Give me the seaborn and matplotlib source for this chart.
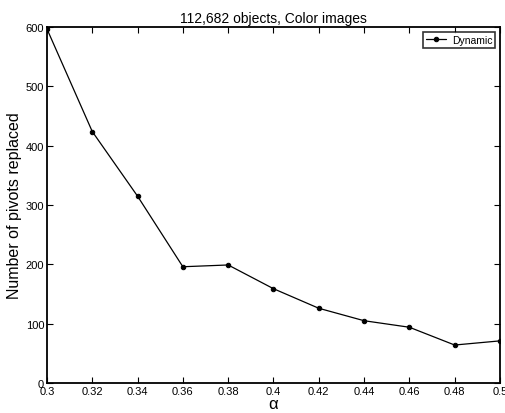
import matplotlib
matplotlib.use("Agg")
import matplotlib.pyplot as plt
import seaborn as sns
import pandas as pd

alpha = [0.30, 0.32, 0.34, 0.36, 0.38, 0.40, 0.42, 0.44, 0.46, 0.48, 0.50]
pivots = [597, 424, 315, 196, 199, 159, 126, 105, 94, 64, 71]
xtick_labels = ["0.3", "0.32", "0.34", "0.36", "0.38", "0.4", "0.42", "0.44", "0.46", "0.48", "0.5"]
yticks = [0, 100, 200, 300, 400, 500, 600]

sns.set_style("white")
plt.rcParams['font.family'] = ['Liberation Sans', 'DejaVu Sans']
plt.rcParams['text.color'] = 'black'
plt.rcParams['axes.labelcolor'] = 'black'

df = pd.DataFrame({"alpha": alpha, "pivots": pivots, "series": "Dynamic"})

fig = plt.figure(figsize=(5.05, 4.14), dpi=100)
ax = fig.add_axes([0.093, 0.0725, 0.897, 0.8595])
sns.lineplot(data=df, x="alpha", y="pivots", hue="series", palette=["black"],
             marker="o", markersize=3.2, markeredgecolor="black", linewidth=0.9, ax=ax)

ax.set_xlim(0.3, 0.5)
ax.set_ylim(0, 600)
ax.set_xticks(alpha)
ax.set_xticklabels(xtick_labels)
ax.set_yticks(yticks)
ax.tick_params(direction="in", length=4, width=0.8, labelsize=8, top=True, right=True,
               bottom=True, left=True, pad=2, colors="black")
for s in ax.spines.values():
    s.set_linewidth(1.3)
    s.set_color("black")

ax.set_xlabel("α", fontsize=12, labelpad=0, color="black")
ax.set_ylabel("Number of pivots replaced", fontsize=11.5, labelpad=3, color="black")
ax.set_title("112,682 objects, Color images", fontsize=10, pad=4, color="black")

leg = ax.legend(loc="upper right", fontsize=7.5, frameon=True, fancybox=False,
                handlelength=2.0, borderpad=0.25, handletextpad=0.5, borderaxespad=0.5)
leg.get_frame().set_edgecolor("black")
leg.get_frame().set_linewidth(1.2)
for t in leg.get_texts():
    t.set_color("black")

fig.savefig("out.png", dpi=100)
